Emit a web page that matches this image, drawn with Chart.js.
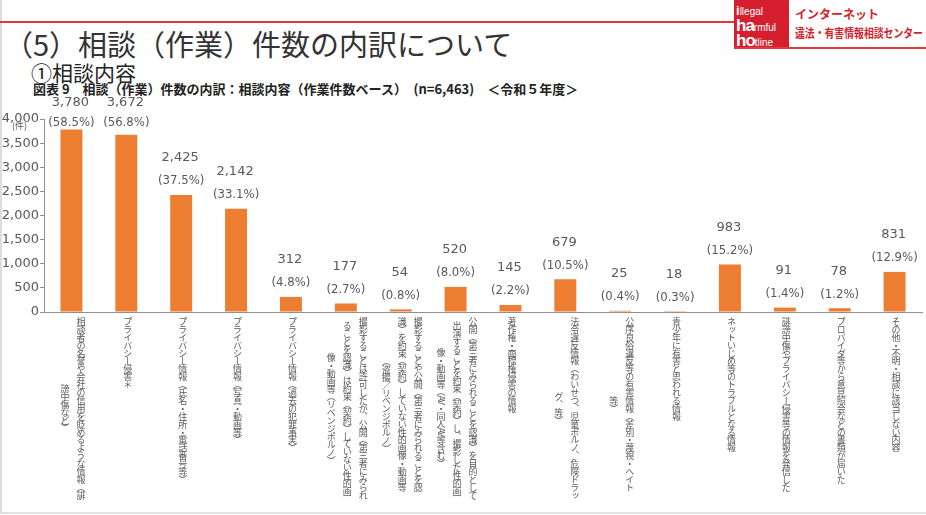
<!DOCTYPE html>
<html><head><meta charset="utf-8">
<script src="https://cdn.jsdelivr.net/npm/chart.js@4"></script>
<style>
body{margin:0;background:#fff;}
#page{position:relative;width:926px;height:515px;overflow:hidden;font-family:"Noto Sans CJK JP",sans-serif;background:#fff;}
.frame{position:absolute;left:0;top:0;width:924px;height:512px;border-left:2px solid #dcdcdc;border-bottom:2px solid #e2e2e2;}
.redline{position:absolute;left:0;top:21px;width:734px;height:2px;background:#e2393e;}
.logo{position:absolute;left:734px;top:0;width:55px;height:48px;background:#d51f2e;color:#fff;font-family:"Liberation Sans",Arial,sans-serif;line-height:1;}
.logo .r{position:absolute;left:2px;white-space:nowrap;}
.logo .big{font-weight:bold;font-size:17px;letter-spacing:-1px;}
.logo .sm{font-size:10px;}
.logoline{position:absolute;left:734px;top:47px;width:192px;height:2px;background:#e2393e;}
.lt1{position:absolute;left:795px;top:5px;font-size:12px;font-weight:bold;color:#d51f2e;white-space:nowrap;}
.lt2{position:absolute;left:795px;top:24px;font-size:12px;font-weight:bold;color:#d51f2e;white-space:nowrap;transform:scaleX(0.82);transform-origin:left center;}
.title{position:absolute;left:4px;top:23px;font-size:29px;color:#333;white-space:nowrap;line-height:40px;}
.sub{position:absolute;left:31px;top:58px;font-size:21px;color:#222;white-space:nowrap;line-height:28px;}
.fig{position:absolute;left:33px;top:80px;font-size:13px;font-weight:bold;color:#222;white-space:nowrap;line-height:18px;}
.unit{position:absolute;left:12px;top:119px;font-size:9px;color:#595959;}
canvas{position:absolute;left:0;top:0;}
.cat{position:absolute;writing-mode:vertical-rl;text-align:center;font-size:9px;letter-spacing:-1.1px;line-height:16px;color:#595959;white-space:nowrap;transform:translateX(-50%);}
</style></head>
<body><div id="page">
<div class="frame"></div>
<div class="redline"></div>
<div class="logo">
  <div class="r" style="top:2px;"><span style="font-size:13px;font-weight:bold;">i</span><span class="sm">llegal</span></div>
  <div class="r" style="top:17px;"><span class="big">ha</span><span class="sm">rmful</span></div>
  <div class="r" style="top:32px;"><span class="big">ho</span><span class="sm">tline</span></div>
</div>
<div class="logoline"></div>
<div class="lt1">インターネット</div>
<div class="lt2">違法・有害情報相談センター</div>
<div class="title">（5）相談（作業）件数の内訳について</div>
<div class="sub">①相談内容</div>
<div class="fig">図表 9　相談（作業）件数の内訳：相談内容（作業件数ベース）　(n=6,463)　＜令和５年度＞</div>
<canvas id="c" width="926" height="515"></canvas>
<div class="unit">(件)</div>
<div id="cats"></div>
</div>
<script>
const categories = [
  ["相談者の名誉や会社の信用を貶めるような情報（誹","謗中傷など）"],
  ["プライバシー侵害＊"],
  ["プライバシー情報（氏名・住所・電話番号等）"],
  ["プライバシー情報（写真・動画等）"],
  ["プライバシー情報（過去の犯罪事実）"],
  ["撮影することは許可したが、公開（第三者にみられ","ることを認識）は約束（契約）していない性的画","像・動画等（リベンジポルノ）"],
  ["撮影することや公開（第三者にみられることを認","識）を約束（契約）していない性的画像・動画等","（盗撮／リベンジポルノ）"],
  ["公開（第三者にみられることを認識）を目的として","出演することを約束（契約）し、撮影した性的画","像・動画等（AV・同人AV等含む）"],
  ["著作権・商標権侵害の情報"],
  ["法令違反情報（わいせつ、児童ポルノ、危険ドラッ","グ、等）"],
  ["公序良俗違反等の有害情報（差別・蔑視・ヘイト","等）"],
  ["青少年に有害と思われる情報"],
  ["ネットいじめ等のトラブルとなる情報"],
  ["誹謗中傷やプライバシー侵害等の情報を発信した"],
  ["プロバイダ等から意見照会などの書類が届いた"],
  ["その他・不明・相談に該当しない内容"]
];
const counts = [3780,3672,2425,2142,312,177,54,520,145,679,25,18,983,91,78,831];
const percents = ["58.5","56.8","37.5","33.1","4.8","2.7","0.8","8.0","2.2","10.5","0.4","0.3","15.2","1.4","1.2","12.9"];
const yMin = 0, yMax = 4000, yStep = 500;

const labelPlugin = {
  id:'barLabels',
  afterDatasetsDraw(chart){
    const ctx = chart.ctx;
    const meta = chart.getDatasetMeta(0);
    const top = chart.chartArea.top;
    ctx.save();
    ctx.fillStyle = '#595959';
    ctx.textAlign = 'center';
    ctx.textBaseline = 'middle';
    meta.data.forEach((bar,i)=>{
      let vy = bar.y - 37, py = bar.y - 14;
      if (vy < top - 16) { vy = top - 16; py = top + 4; }
      ctx.font = '13px "DejaVu Sans"';
      ctx.fillText(counts[i].toLocaleString('en-US'), bar.x - 1, vy);
      ctx.font = '13px "DejaVu Sans Condensed", "DejaVu Sans"';
      ctx.fillText('(' + percents[i] + '%)', bar.x, py);
    });
    ctx.restore();
  },
  afterRender(chart){
    const box = document.getElementById('cats');
    box.innerHTML = '';
    const xs = chart.scales.x;
    categories.forEach((lines,i)=>{
      const d = document.createElement('div');
      d.className = 'cat';
      d.style.left = (xs.getPixelForValue(i) + 1) + 'px';
      d.style.top = (xs.top + 5) + 'px';
      lines.forEach((ln,k)=>{
        if (k) d.appendChild(document.createElement('br'));
        d.appendChild(document.createTextNode(ln));
      });
      box.appendChild(d);
    });
  }
};

new Chart(document.getElementById('c'), {
  type:'bar',
  data:{
    labels: categories,
    datasets:[{data: counts, backgroundColor:'#ED7D31', borderWidth:0, barPercentage:0.4, categoryPercentage:1.0}]
  },
  options:{
    responsive:false,
    animation:false,
    layout:{padding:{top:119,right:4,left:0,bottom:0}},
    plugins:{legend:{display:false},tooltip:{enabled:false}},
    scales:{
      x:{
        grid:{display:false},
        border:{display:true,color:'#8f8f8f',width:1},
        ticks:{display:false},
        afterFit(s){ s.height = 203; }
      },
      y:{
        min:yMin, max:yMax,
        grid:{drawOnChartArea:false, tickLength:4, color:'#8f8f8f'},
        border:{display:true,color:'#8f8f8f',width:1},
        ticks:{stepSize:yStep, padding:1, color:'#595959', font:{family:'"DejaVu Sans"', size:13},
          callback:(v)=>Number(v).toLocaleString('en-US')},
        afterFit(s){ s.width = 44; }
      }
    }
  },
  plugins:[labelPlugin]
});
</script>
</body></html>
